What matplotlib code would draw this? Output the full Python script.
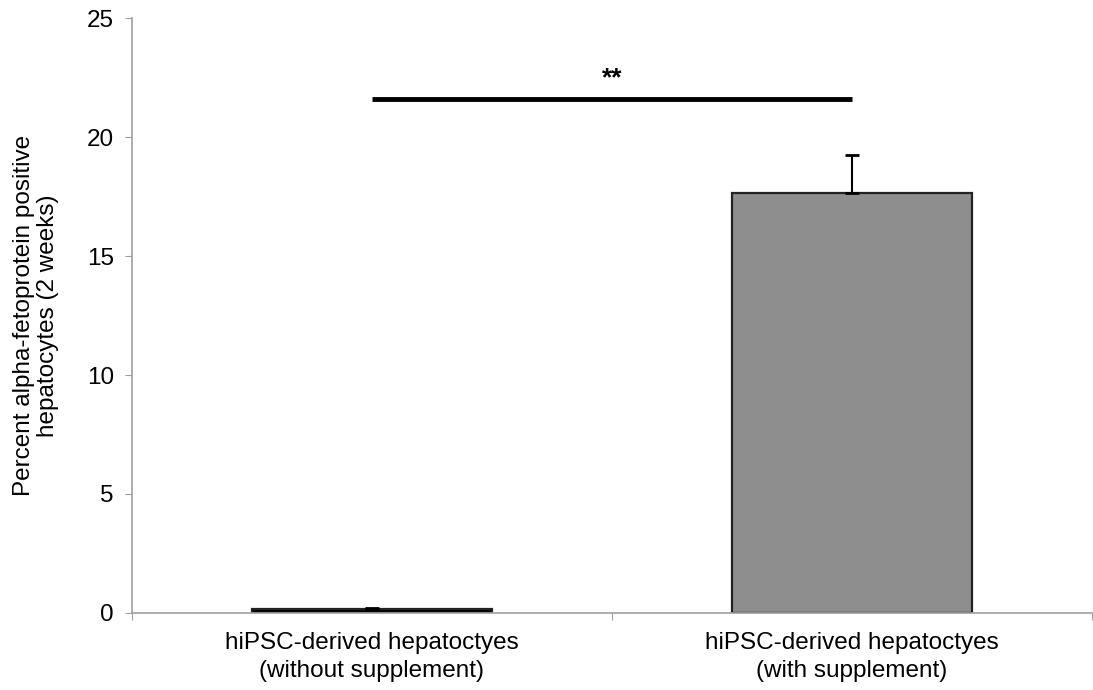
import matplotlib.pyplot as plt
import numpy as np

plt.rcParams['font.family'] = ['Liberation Sans', 'DejaVu Sans']

# Data
categories = ['hiPSC-derived hepatoctyes\n(without supplement)',
              'hiPSC-derived hepatoctyes\n(with supplement)']
values = [0.15, 17.65]
errors = [0.05, 1.6]
bar_colors = ['#000000', '#8e8e8e']
sig_level = 21.6
sig_text = '**'

fig = plt.figure(figsize=(10.93, 6.9), dpi=100)
ax = fig.add_axes([0.1208, 0.1116, 0.878, 0.8623])

x = np.arange(len(categories))
ax.bar(x, values, width=0.5, color=bar_colors, edgecolor='#222222', linewidth=1.6, zorder=2)
ax.errorbar(x, values, yerr=[np.zeros(len(errors)), errors], fmt='none',
            ecolor='black', elinewidth=1.5, capsize=5, capthick=2, zorder=3)

# significance bar
ax.plot([x[0], x[1]], [sig_level, sig_level], color='black', lw=3.5, solid_capstyle='butt')
ax.text((x[0] + x[1]) / 2, sig_level + 0.35, sig_text, ha='center', va='bottom',
        fontsize=19, fontweight='bold')

ax.set_xlim(-0.5, 1.5)
ax.set_ylim(0, 25)
ax.set_yticks([0, 5, 10, 15, 20, 25])
ax.set_xticks([-0.5, 0.5, 1.5])
ax.set_xticklabels([])
ax.set_xticks(x, minor=True)
ax.set_xticklabels(categories, minor=True, fontsize=17.5, linespacing=1.3)
ax.tick_params(axis='x', which='minor', length=0, pad=14)
ax.tick_params(axis='x', which='major', direction='out', length=5, color='#a0a0a0')
ax.tick_params(axis='y', direction='out', length=5, color='#a0a0a0', labelsize=17.5, pad=8)

for side in ['top', 'right']:
    ax.spines[side].set_visible(False)
for side in ['left', 'bottom']:
    ax.spines[side].set_color('#a0a0a0')
    ax.spines[side].set_linewidth(1.2)

ax.set_ylabel('Percent alpha-fetoprotein positive\nhepatocytes (2 weeks)', fontsize=17.5,
              labelpad=20, linespacing=1.15)

fig.savefig('out.png', dpi=100)
